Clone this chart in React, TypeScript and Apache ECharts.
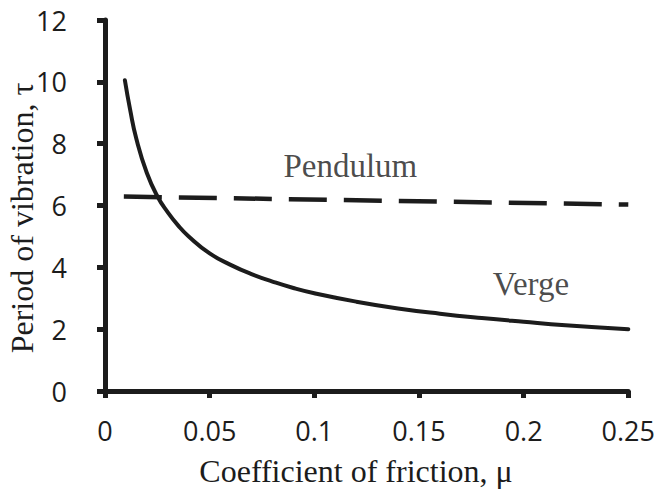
import React, { useEffect, useRef } from "react";
import * as echarts from "echarts";

// Verge curve
const vergeMu = [0.0095, 0.012, 0.015, 0.02, 0.025, 0.03, 0.035, 0.04, 0.05, 0.06, 0.07, 0.08, 0.09, 0.1, 0.12, 0.14, 0.16, 0.18, 0.2, 0.22, 0.25];
const vergeTau = [10.05, 9.1, 8.15, 7.05, 6.3, 5.78, 5.35, 5.0, 4.45, 4.08, 3.78, 3.54, 3.33, 3.16, 2.89, 2.67, 2.5, 2.36, 2.24, 2.13, 2.0];

// Pendulum line (dashed)
const pendulumMu = [0.009, 0.25];
const pendulumTau = [6.29, 6.03];

// Curve annotations
const annotationTexts = ["Pendulum", "Verge"];
const annotationMu = [0.1172, 0.2035];
const annotationTau = [7.28, 3.46];

const xTitle = "Coefficient of friction, μ";
const yTitle = "Period of vibration, τ";

export default function App() {
  const ref = useRef<HTMLDivElement>(null);

  useEffect(() => {
    if (!ref.current) return;
    const chart = echarts.init(ref.current, undefined, { renderer: "svg" });
    const ink = "#1c1c1c";
    const tickFont = "'Open Sans', 'Liberation Sans', sans-serif";
    const serif = "'Liberation Serif', 'DejaVu Serif', serif";
    chart.setOption({
      animation: false,
      backgroundColor: "#ffffff",
      grid: { left: 105, right: 29, top: 20, bottom: 101, containLabel: false },
      xAxis: {
        type: "value",
        min: 0,
        max: 0.25,
        interval: 0.05,
        splitLine: { show: false },
        axisLine: { show: true, lineStyle: { color: ink, width: 5 } },
        axisTick: { show: true, length: 7, lineStyle: { color: ink, width: 5 } },
        axisLabel: {
          fontFamily: tickFont,
          fontSize: 27,
          color: ink,
          margin: 26,
          formatter: (v: number) => String(parseFloat(v.toFixed(2))),
        },
      },
      yAxis: {
        type: "value",
        min: 0,
        max: 12,
        interval: 2,
        splitLine: { show: false },
        axisLine: { show: true, lineStyle: { color: ink, width: 5 } },
        axisTick: { show: true, length: 8, lineStyle: { color: ink, width: 5 } },
        axisLabel: {
          fontFamily: tickFont,
          fontSize: 27,
          color: ink,
          margin: 38,
        },
      },
      graphic: [
        {
          type: "text",
          x: 356,
          y: 471,
          style: {
            text: xTitle,
            fontFamily: serif,
            fontSize: 32,
            fill: ink,
            align: "center",
            verticalAlign: "middle",
          },
        },
        {
          type: "text",
          x: 22,
          y: 218,
          rotation: Math.PI / 2,
          style: {
            text: yTitle,
            fontFamily: serif,
            fontSize: 32,
            fill: ink,
            align: "center",
            verticalAlign: "middle",
          },
        },
      ],
      series: [
        {
          name: "Verge",
          type: "line",
          smooth: true,
          showSymbol: false,
          symbol: "none",
          data: vergeMu.map((m, i) => [m, vergeTau[i]]),
          lineStyle: { color: ink, width: 4, cap: "round" },
        },
        {
          name: "Pendulum",
          type: "line",
          showSymbol: false,
          symbol: "none",
          data: pendulumMu.map((m, i) => [m, pendulumTau[i]]),
          lineStyle: { color: ink, width: 4.5, type: [38, 17] },
        },
        {
          name: "labels",
          type: "scatter",
          symbolSize: 0,
          data: annotationMu.map((m, i) => [m, annotationTau[i], annotationTexts[i]]),
          label: {
            show: true,
            position: "inside",
            formatter: (p: any) => p.data[2],
            fontFamily: serif,
            fontSize: 33,
            color: ink,
          },
          silent: true,
        },
      ],
    });
    return () => chart.dispose();
  }, []);

  return (
    <div
      ref={ref}
      style={{ position: "absolute", left: 0, top: 0, width: 658, height: 492, background: "#fff" }}
    />
  );
}
